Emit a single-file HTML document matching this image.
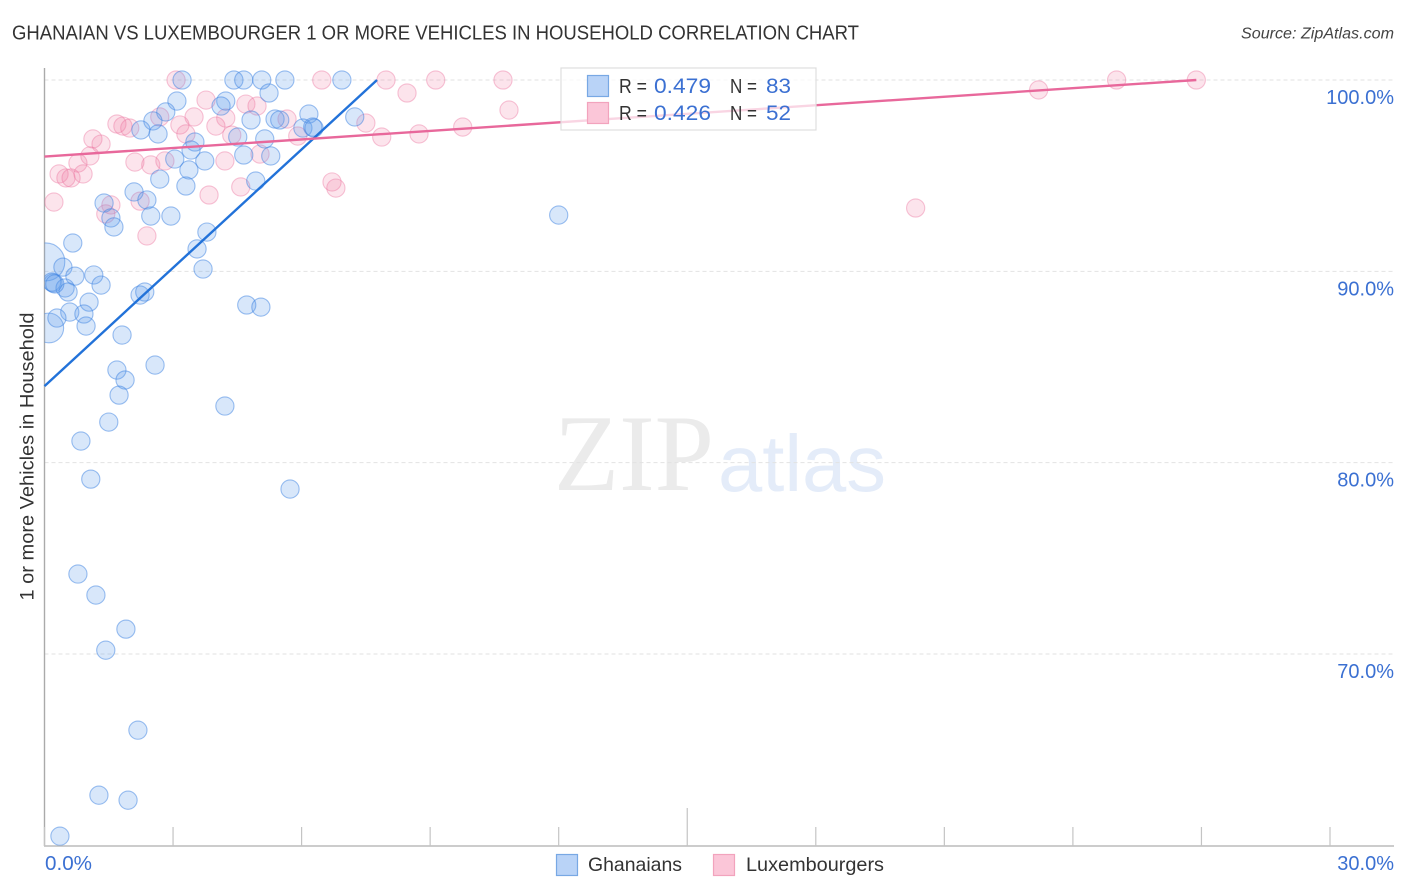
<!DOCTYPE html>
<html lang="en">
<head>
<meta charset="utf-8">
<title>Ghanaian vs Luxembourger 1 or More Vehicles in Household Correlation Chart</title>
<style>
html,body{margin:0;padding:0;background:#fff;}
body{width:1406px;height:892px;overflow:hidden;font-family:"Liberation Sans",sans-serif;}
svg{display:block;}
</style>
</head>
<body>
<svg id="chart" xmlns="http://www.w3.org/2000/svg" width="1406" height="892" viewBox="0 0 1406 892">
  <defs>
    <clipPath id="plot-clip"><rect x="44.5" y="60" width="1350" height="785.5"/></clipPath>
  </defs>
  <text x="12" y="39.5" font-size="20" fill="#333" textLength="847" lengthAdjust="spacingAndGlyphs">GHANAIAN VS LUXEMBOURGER 1 OR MORE VEHICLES IN HOUSEHOLD CORRELATION CHART</text>
  <text x="1394" y="38.5" font-size="15.5" font-style="italic" fill="#444" text-anchor="end" textLength="153" lengthAdjust="spacingAndGlyphs">Source: ZipAtlas.com</text>

  <g id="watermark">
    <text x="554" y="490" font-family="'Liberation Serif',serif" font-size="109" fill="#ebebeb" textLength="160" lengthAdjust="spacingAndGlyphs">ZIP</text>
    <text x="718" y="491" font-size="80" fill="#e4ecf9" textLength="168" lengthAdjust="spacingAndGlyphs">atlas</text>
  </g>

  <g id="grid"></g>
  <g id="axes"></g>
  <g id="marks" clip-path="url(#plot-clip)"></g>
  <g id="trends"></g>
  <g id="tick-labels"></g>

  <text transform="translate(33.5,456.5) rotate(-90)" font-size="19" fill="#333" text-anchor="middle" textLength="288" lengthAdjust="spacingAndGlyphs">1 or more Vehicles in Household</text>

  <g>
    <rect x="561" y="68" width="255" height="62" fill="#fff" fill-opacity="0.72" stroke="#dedede" stroke-width="1.2"/>
    <rect x="587.5" y="75.5" width="21" height="21" fill="#b9d3f7" stroke="#78a8e4" stroke-width="1.2"/>
    <rect x="587.5" y="102.5" width="21" height="21" fill="#fbc6d8" stroke="#f2a3bd" stroke-width="1.2"/>
    <text x="619" y="93" font-size="20" fill="#333" textLength="28" lengthAdjust="spacingAndGlyphs">R =</text>
    <text x="654" y="93" font-size="21.5" fill="#3b70d2" textLength="57" lengthAdjust="spacingAndGlyphs">0.479</text>
    <text x="730" y="93" font-size="20" fill="#333" textLength="27" lengthAdjust="spacingAndGlyphs">N =</text>
    <text x="766" y="93" font-size="21.5" fill="#3b70d2" textLength="25" lengthAdjust="spacingAndGlyphs">83</text>
    <text x="619" y="120" font-size="20" fill="#333" textLength="28" lengthAdjust="spacingAndGlyphs">R =</text>
    <text x="654" y="120" font-size="21.5" fill="#3b70d2" textLength="57" lengthAdjust="spacingAndGlyphs">0.426</text>
    <text x="730" y="120" font-size="20" fill="#333" textLength="27" lengthAdjust="spacingAndGlyphs">N =</text>
    <text x="766" y="120" font-size="21.5" fill="#3b70d2" textLength="25" lengthAdjust="spacingAndGlyphs">52</text>
  </g>

  <g>
    <rect x="556.5" y="854.5" width="21" height="21" fill="#b9d3f7" stroke="#78a8e4" stroke-width="1.2"/>
    <text x="588" y="871" font-size="19.5" fill="#333" textLength="94" lengthAdjust="spacingAndGlyphs">Ghanaians</text>
    <rect x="713.5" y="854.5" width="21" height="21" fill="#fbc6d8" stroke="#f2a3bd" stroke-width="1.2"/>
    <text x="746" y="871" font-size="19.5" fill="#333" textLength="138" lengthAdjust="spacingAndGlyphs">Luxembourgers</text>
  </g>
</svg>
<script>
var ghanaianX = [3.21,4.42,4.65,5.07,5.61,6.94,5.24,3.09,4.23,4.12,2.83,2.53,6.17,5.38,5.49,4.82,7.24,6.03,6.26,6.29,2.25,2.65,3.51,3.42,4.51,5.14,3.04,3.74,4.65,5.28,3.37,2.69,3.30,4.93,2.09,2.39,1.39,1.55,1.62,2.48,2.95,3.79,3.56,3.70,0.66,0.43,0.71,1.15,1.32,0.20,0.17,0.48,0.55,2.23,2.34,4.72,5.05,1.04,0.59,0.92,0.29,0.97,1.81,2.58,1.69,1.88,1.74,4.21,1.50,0.85,1.08,5.73,0.78,1.20,1.90,1.43,2.18,1.27,1.95,0.36,12.00,0.24];
var ghanaianY = [100,100,100,100,100,100,99.32,98.90,98.90,98.64,98.33,97.86,98.22,97.96,97.91,97.91,98.07,97.49,97.54,97.49,97.39,97.18,96.76,96.34,97.02,96.92,95.87,95.77,96.08,96.03,95.30,94.82,94.46,94.72,94.15,93.73,93.57,92.79,92.32,92.89,92.89,92.05,91.17,90.12,91.48,90.22,89.75,89.81,89.28,89.39,89.44,89.13,88.92,88.76,88.92,88.24,88.13,88.39,87.87,87.77,87.56,87.14,86.67,85.10,84.84,84.32,83.53,82.96,82.12,81.13,79.14,78.62,74.18,73.08,71.30,70.20,66.02,62.62,62.36,60.48,92.94,89.34];
var ghanaianLargeX = [0.03,0.10];
var ghanaianLargeY = [90.49,87.04];
var ghanaianLargeWeight = [4.36,2.66];
var luxembourgerX = [3.07,6.47,7.97,3.77,4.70,4.96,2.69,3.49,4.23,5.66,7.50,1.69,1.83,1.99,3.16,4.00,3.30,4.37,5.91,1.13,1.32,7.87,1.06,5.03,0.78,2.11,2.48,2.81,4.21,0.34,0.90,0.50,0.62,4.58,6.71,6.80,3.84,0.22,2.23,1.55,1.43,2.39,9.13,10.70,25.02,26.88,8.46,10.84,8.74,9.76,23.20,20.33];
var luxembourgerY = [100,100,100,98.95,98.74,98.64,98.07,98.07,98.01,97.96,97.75,97.70,97.59,97.49,97.65,97.59,97.18,97.12,97.07,96.92,96.65,97.02,96.03,96.13,95.66,95.71,95.56,95.77,95.77,95.09,95.09,94.88,94.88,94.41,94.67,94.35,93.99,93.62,93.67,93.47,93.00,91.85,100,100,100,100,99.32,98.43,97.18,97.54,99.48,93.31];
var ghanaianTrendX = [0,7.76];
var ghanaianTrendY = [84,100];
var luxembourgerTrendX = [0,26.88];
var luxembourgerTrendY = [96,100];
var yGridValues = [100,90,80,70];
var yTickLabels = ["100.0%","90.0%","80.0%","70.0%"];
var xTickValues = [0,3,6,9,12,15,18,21,24,27,30];
var xEndLabels = ["0.0%","30.0%"];

var NS = "http://www.w3.org/2000/svg";
function sx(v){ return 44.5 + v * (1330 - 44.5) / 30; }
function sy(v){ return 80 + (100 - v) * (654 - 80) / 30; }
function make(tag, attrs, parent){
  var el = document.createElementNS(NS, tag);
  Object.keys(attrs).forEach(function(k){ el.setAttribute(k, attrs[k]); });
  parent.appendChild(el);
  return el;
}
var gridG = document.getElementById("grid");
var axesG = document.getElementById("axes");
var marksG = document.getElementById("marks");
var trendsG = document.getElementById("trends");
var labelsG = document.getElementById("tick-labels");

yGridValues.forEach(function(v, i){
  var line = make("line", {x1:44.5, x2:1394, y1:sy(v), y2:sy(v), stroke:"#e2e2e2", "stroke-width":1, "stroke-dasharray":"4 3"}, gridG);
  
  
  var t = make("text", {x:1394, y:sy(v)+24, "font-size":20, fill:"#3b70d2", "text-anchor":"end"}, labelsG);
  
  
  t.textContent = yTickLabels[i];
});

var leftAxis = make("line", {x1:44.5, x2:44.5, y1:68, y2:846, stroke:"#aaa", "stroke-width":1.4}, axesG);


var bottomAxis = make("line", {x1:44, x2:1394, y1:846, y2:846, stroke:"#bbb", "stroke-width":1.4}, axesG);


xTickValues.forEach(function(v){
  var tick = make("line", {x1:sx(v), x2:sx(v), y1:(v === 15 ? 808 : 827), y2:846, stroke:"#c4c4c4", "stroke-width":1.2}, axesG);
  
  
});

var x0Label = make("text", {x:45, y:870, "font-size":20, fill:"#3b70d2", textLength:47, lengthAdjust:"spacingAndGlyphs"}, labelsG);


x0Label.textContent = xEndLabels[0];
var x1Label = make("text", {x:1394, y:870, "font-size":20, fill:"#3b70d2", "text-anchor":"end"}, labelsG);


x1Label.textContent = xEndLabels[1];

function bubble(x, y, weight, fill, stroke){
  var c = make("circle", {cx:sx(x), cy:sy(y), r:9.1 * Math.sqrt(weight), fill:fill, stroke:stroke, "stroke-width":1.1}, marksG);
  return c;
}
luxembourgerX.forEach(function(x, i){
  var c = bubble(x, luxembourgerY[i], 1, "rgba(240,120,160,0.2)", "rgba(236,110,155,0.4)");
  
  
});
ghanaianLargeX.forEach(function(x, i){
  var c = bubble(x, ghanaianLargeY[i], ghanaianLargeWeight[i], "rgba(90,155,235,0.24)", "rgba(60,130,225,0.5)");
  
  
});
ghanaianX.forEach(function(x, i){
  var c = bubble(x, ghanaianY[i], 1, "rgba(90,155,235,0.24)", "rgba(60,130,225,0.5)");
  
  
});

var blueTrend = make("line", {x1:sx(ghanaianTrendX[0]), y1:sy(ghanaianTrendY[0]), x2:sx(ghanaianTrendX[1]), y2:sy(ghanaianTrendY[1]), stroke:"#2272d9", "stroke-width":2.4}, trendsG);


var pinkTrend = make("line", {x1:sx(luxembourgerTrendX[0]), y1:sy(luxembourgerTrendY[0]), x2:sx(luxembourgerTrendX[1]), y2:sy(luxembourgerTrendY[1]), stroke:"#e8689b", "stroke-width":2.4}, trendsG);


</script>
</body>
</html>
